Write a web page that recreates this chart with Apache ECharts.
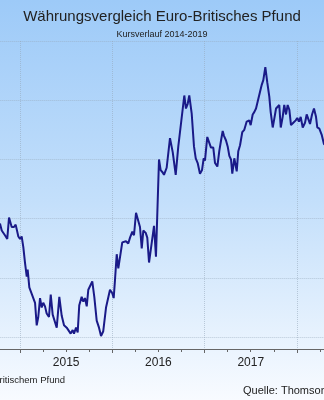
<!DOCTYPE html>
<html>
<head>
<meta charset="utf-8">
<script src="https://cdn.jsdelivr.net/npm/echarts@6/dist/echarts.min.js"></script>
<style>html,body{margin:0;padding:0;overflow:hidden;}#c{width:324px;height:400px;}</style>
</head>
<body>
<div id="c"></div>
<script>
// Data (decimal year, EUR in GBP)
var years = [2014.783,2014.802,2014.837,2014.862,2014.881,2014.910,2014.935,2014.953,2014.982,2015.000,
2015.018,2015.036,2015.054,2015.073,2015.083,2015.101,2015.119,2015.144,2015.163,2015.181,
2015.198,2015.217,2015.235,2015.252,2015.271,2015.289,2015.314,2015.333,2015.354,2015.372,
2015.398,2015.426,2015.452,2015.477,2015.506,2015.523,2015.549,2015.571,2015.585,2015.607,
2015.625,2015.642,2015.668,2015.686,2015.704,2015.723,2015.740,2015.758,2015.783,2015.805,
2015.831,2015.856,2015.878,2015.902,2015.932,2015.950,2015.975,2016.000,2016.015,2016.029,
2016.048,2016.065,2016.083,2016.108,2016.127,2016.148,2016.173,2016.192,2016.217,2016.235,
2016.257,2016.275,2016.300,2016.319,2016.336,2016.362,2016.379,2016.398,2016.419,2016.452,
2016.473,2016.506,2016.524,2016.546,2016.560,2016.589,2016.625,2016.655,2016.687,2016.715,
2016.733,2016.780,2016.798,2016.817,2016.834,2016.860,2016.885,2016.904,2016.925,2016.950,
2016.972,2016.990,2017.004,2017.029,2017.051,2017.069,2017.094,2017.113,2017.138,2017.159,
2017.178,2017.196,2017.210,2017.232,2017.250,2017.268,2017.286,2017.300,2017.322,2017.348,
2017.365,2017.384,2017.408,2017.430,2017.456,2017.484,2017.499,2017.521,2017.538,2017.557,
2017.575,2017.600,2017.619,2017.636,2017.658,2017.679,2017.701,2017.716,2017.738,2017.752,
2017.774,2017.792,2017.809,2017.825,2017.846,2017.863,2017.882,2017.900,2017.918,2017.936,
2017.961,2017.987,2018.004,2018.023,2018.041,2018.063,2018.088,2018.106,2018.124,2018.142,
2018.164,2018.185,2018.207,2018.221,2018.243,2018.268,2018.293,2018.320];
var rates = [0.796,0.790,0.786,0.783,0.801,0.793,0.793,0.795,0.785,0.783,
0.785,0.776,0.763,0.751,0.757,0.742,0.743,0.733,0.729,0.710,
0.717,0.733,0.725,0.729,0.726,0.720,0.717,0.736,0.719,0.718,
0.708,0.734,0.718,0.710,0.708,0.708,0.703,0.706,0.703,0.708,
0.704,0.727,0.734,0.730,0.733,0.726,0.740,0.741,0.747,0.734,
0.714,0.708,0.701,0.705,0.725,0.726,0.740,0.737,0.733,0.748,
0.770,0.758,0.758,0.780,0.779,0.781,0.779,0.784,0.789,0.786,
0.805,0.800,0.793,0.775,0.790,0.788,0.784,0.763,0.764,0.794,
0.768,0.850,0.841,0.839,0.837,0.843,0.868,0.856,0.837,0.861,
0.862,0.904,0.893,0.897,0.904,0.889,0.861,0.851,0.847,0.838,
0.841,0.851,0.849,0.869,0.864,0.860,0.860,0.847,0.844,0.857,
0.866,0.874,0.870,0.866,0.861,0.853,0.850,0.838,0.851,0.840,
0.857,0.862,0.873,0.875,0.882,0.883,0.879,0.888,0.890,0.893,
0.893,0.907,0.913,0.917,0.928,0.915,0.903,0.890,0.877,0.883,
0.893,0.892,0.896,0.877,0.886,0.896,0.888,0.896,0.892,0.879,
0.881,0.883,0.885,0.882,0.886,0.877,0.881,0.888,0.889,0.880,
0.888,0.893,0.886,0.877,0.876,0.871,0.863,0.862];
var yearLabels = ['2014','2015','2016','2017','2018'];

var seriesData = years.map(function(y, i){ return [y, rates[i]]; });

var chart = echarts.init(document.getElementById('c'), null, {renderer:'canvas'});
chart.setOption({
  animation: false,
  backgroundColor: {
    type: 'linear', x: 0, y: 0, x2: 0, y2: 1,
    colorStops: [
      {offset: 0, color: '#9dcaf8'},
      {offset: 0.5, color: '#c3dffb'},
      {offset: 1, color: '#f8fbff'}
    ]
  },
  title: [
    {text: 'Währungsvergleich Euro-Britisches Pfund', left: 'center', top: 4,
     textStyle: {fontFamily: 'Liberation Sans', fontSize: 15, fontWeight: 'normal', color: '#222'}},
    {text: 'Kursverlauf 2014-2019', left: 'center', top: 25,
     textStyle: {fontFamily: 'Liberation Sans', fontSize: 9, fontWeight: 'normal', color: '#222'}}
  ],
  graphic: [
    {type: 'text', x: 65, y: 380, style: {text: '1 Euro in Britischem Pfund', textAlign: 'right', textVerticalAlign: 'middle', font: '9.5px "Liberation Sans"', fill: '#222'}},
    {type: 'text', x: 243, y: 391, style: {text: 'Quelle: Thomson Reuters', textAlign: 'left', textVerticalAlign: 'middle', font: '11px "Liberation Sans"', fill: '#222'}}
  ],
  grid: {left: -72.3, right: -65.2, top: 41, bottom: 51, containLabel: false, outerBoundsMode: 'none'},
  xAxis: [
    {type: 'value', min: 2014, max: 2019, interval: 1,
     axisLine: {show: true, lineStyle: {color: '#666', width: 1}},
     axisTick: {show: true, length: 4, lineStyle: {color: '#666'}},
     minorTick: {show: true, splitNumber: 4, length: 3, lineStyle: {color: '#666'}},
     splitLine: {show: true, lineStyle: {color: 'rgba(150,168,186,0.55)', type: 'dotted', width: 1}},
     axisLabel: {show: false}},
    {type: 'category', data: yearLabels, position: 'bottom', boundaryGap: true,
     axisLine: {show: false}, axisTick: {show: false}, splitLine: {show: false},
     axisLabel: {show: true, margin: 8, fontFamily: 'Liberation Sans', fontSize: 12, color: '#222'}}
  ],
  yAxis: {type: 'value', min: 0.69, max: 0.95, splitNumber: 5,
    axisLine: {show: false}, axisTick: {show: false}, axisLabel: {show: false},
    splitLine: {show: true, lineStyle: {color: 'rgba(150,168,186,0.55)', type: 'dotted', width: 1}}},
  series: [{
    type: 'line', xAxisIndex: 0, data: seriesData, showSymbol: false, symbol: 'none',
    lineStyle: {color: '#1a1a88', width: 2}, clip: true
  }]
});
</script>
</body>
</html>
